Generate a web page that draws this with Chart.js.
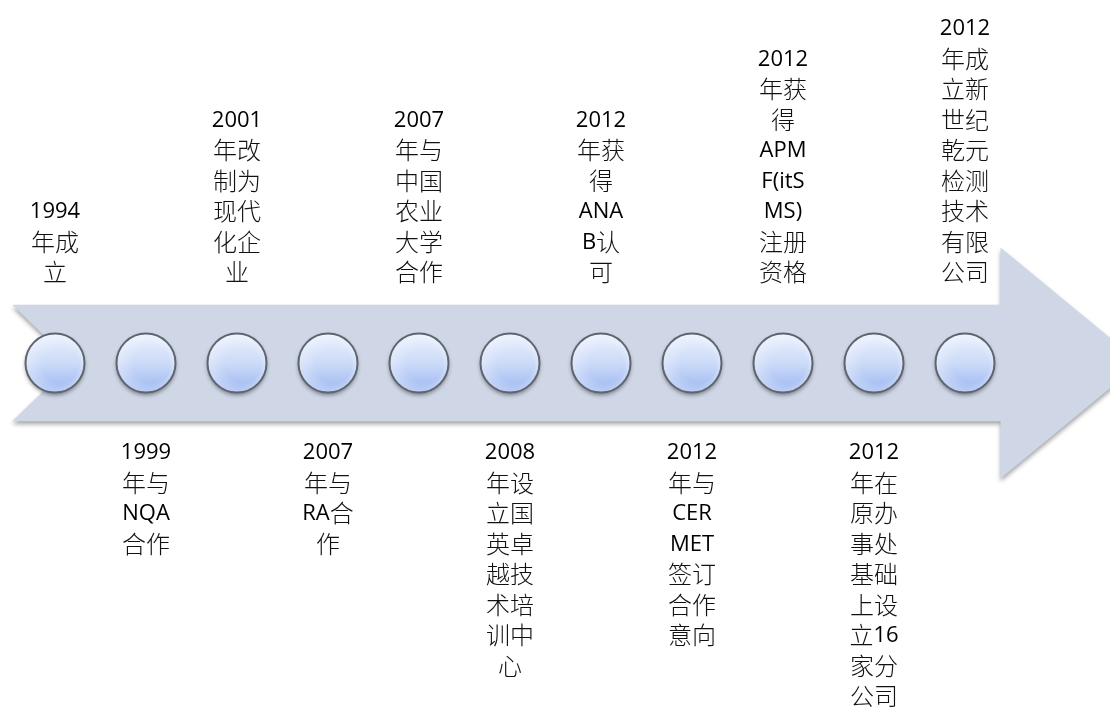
<!DOCTYPE html>
<html>
<head>
<meta charset="utf-8">
<script src="https://cdn.jsdelivr.net/npm/chart.js@4"></script>
<style>
  html, body { margin: 0; padding: 0; background: #fff; }
  #wrap { width: 1110px; height: 708px; }
</style>
</head>
<body>
<div id="wrap"><canvas id="timeline"></canvas></div>
<script>
// milestone data, one entry per circle on the arrow
const years = ['1994', '1999', '2001', '2007', '2007', '2008', '2012', '2012', '2012', '2012', '2012'];
const descLines = [
    ['年成', '立'],
    ['年与', 'NQA', '合作'],
    ['年改', '制为', '现代', '化企', '业'],
    ['年与', 'RA合', '作'],
    ['年与', '中国', '农业', '大学', '合作'],
    ['年设', '立国', '英卓', '越技', '术培', '训中', '心'],
    ['年获', '得', 'ANA', 'B认', '可'],
    ['年与', 'CER', 'MET', '签订', '合作', '意向'],
    ['年获', '得', 'APM', 'F(itS', 'MS)', '注册', '资格'],
    ['年在', '原办', '事处', '基础', '上设', '立16', '家分', '公司'],
    ['年成', '立新', '世纪', '乾元', '检测', '技术', '有限', '公司']
];
const sides = ['top', 'bottom', 'top', 'bottom', 'top', 'bottom', 'top', 'bottom', 'top', 'bottom', 'top'];

const ARROW_COLOR = '#CFD6E6';
const LINE_H = 30.5;
const CJK_FONT = "300 24px 'Noto Sans CJK SC', sans-serif";
const LAT_FONT = "22px 'Open Sans', Lato, sans-serif";

// circle marker drawn once into an offscreen canvas and used as the point style
function makeCircle() {
    const c = document.createElement('canvas');
    c.width = 80; c.height = 80;
    const g = c.getContext('2d');
    const r = 29.5;
    g.save();
    g.shadowColor = 'rgba(0,0,0,0.45)';
    g.shadowBlur = 4;
    g.shadowOffsetY = 2.5;
    const grad = g.createLinearGradient(0, 40 - r, 0, 40 + r);
    grad.addColorStop(0, '#E9F0FD');
    grad.addColorStop(0.5, '#CCDBF8');
    grad.addColorStop(1, '#9BB6F1');
    g.fillStyle = grad;
    g.beginPath();
    g.arc(40, 40, r, 0, Math.PI * 2);
    g.fill();
    g.restore();
    // soft light on the right rim
    const hl = g.createRadialGradient(46, 42, r * 0.6, 40, 40, r);
    hl.addColorStop(0, 'rgba(255,255,255,0)');
    hl.addColorStop(1, 'rgba(255,255,255,0.35)');
    g.fillStyle = hl;
    g.beginPath();
    g.arc(40, 40, r, 0, Math.PI * 2);
    g.fill();
    g.lineWidth = 2;
    g.strokeStyle = '#5F656E';
    g.beginPath();
    g.arc(40, 40, r, 0, Math.PI * 2);
    g.stroke();
    return c;
}

function splitRuns(text) {
    const runs = [];
    for (const ch of text) {
        const cjk = /[\u3000-\u9fff\uff00-\uffef]/.test(ch);
        const last = runs[runs.length - 1];
        if (last && last.cjk === cjk) last.t += ch;
        else runs.push({ t: ch, cjk: cjk });
    }
    return runs;
}

function drawLine(ctx, text, cx, cy) {
    const runs = splitRuns(text);
    let total = 0;
    runs.forEach(r => {
        ctx.font = r.cjk ? CJK_FONT : LAT_FONT;
        r.w = ctx.measureText(r.t).width;
        total += r.w;
    });
    let x = cx - total / 2;
    runs.forEach(r => {
        ctx.font = r.cjk ? CJK_FONT : LAT_FONT;
        ctx.fillStyle = r.cjk ? '#111' : '#000';
        ctx.fillText(r.t, x, cy + (r.cjk ? 0 : 1));
        x += r.w;
    });
}

const arrowPlugin = {
    id: 'arrowBand',
    beforeDatasetsDraw(chart) {
        const { ctx, scales } = chart;
        const n = years.length;
        const x0 = scales.x.getPixelForValue(0);
        const step = scales.x.getPixelForValue(1) - x0;
        const xn = scales.x.getPixelForValue(n - 1);
        const cy = scales.y.getPixelForValue(0);
        const half = step * 0.64;
        const headHalf = step * 1.27;
        const left = x0 - step * 0.47;
        const notch = x0 + step * 0.19;
        const headStart = xn + step * 0.39;
        const tip = headStart + step * 1.54;

        ctx.save();
        ctx.shadowColor = 'rgba(0,0,0,0.35)';
        ctx.shadowBlur = 4;
        ctx.shadowOffsetY = 3;
        ctx.fillStyle = ARROW_COLOR;
        ctx.beginPath();
        ctx.moveTo(left, cy - half);
        ctx.lineTo(headStart, cy - half);
        ctx.lineTo(headStart, cy - headHalf);
        ctx.lineTo(tip, cy);
        ctx.lineTo(headStart, cy + headHalf);
        ctx.lineTo(headStart, cy + half);
        ctx.lineTo(left, cy + half);
        ctx.lineTo(notch, cy);
        ctx.closePath();
        ctx.fill();
        ctx.restore();
    },
    afterDatasetsDraw(chart) {
        const { ctx, scales } = chart;
        const cy = scales.y.getPixelForValue(0);
        ctx.save();
        ctx.textAlign = 'left';
        ctx.textBaseline = 'middle';
        years.forEach((yr, i) => {
            const lines = [yr].concat(descLines[i]);
            const cx = scales.x.getPixelForValue(i);
            lines.forEach((t, j) => {
                let ly;
                if (sides[i] === 'top') ly = cy - 91 - (lines.length - 1 - j) * LINE_H;
                else ly = cy + 89 + j * LINE_H;
                drawLine(ctx, t, cx, ly);
            });
        });
        ctx.restore();
    }
};

const circleImg = makeCircle();

new Chart(document.getElementById('timeline'), {
    type: 'scatter',
    data: {
        datasets: [{
            data: years.map((_, i) => ({ x: i, y: 0 })),
            pointStyle: circleImg,
            pointRadius: 30,
            pointHoverRadius: 30
        }]
    },
    options: {
        responsive: true,
        maintainAspectRatio: false,
        animation: false,
        events: [],
        layout: { padding: 0, autoPadding: false },
        plugins: {
            legend: { display: false },
            tooltip: { enabled: false }
        },
        scales: {
            x: { type: 'linear', min: -55 / 91, max: 1055 / 91, display: false },
            y: { min: -345, max: 363, display: false }
        }
    },
    plugins: [arrowPlugin]
});
</script>
</body>
</html>
